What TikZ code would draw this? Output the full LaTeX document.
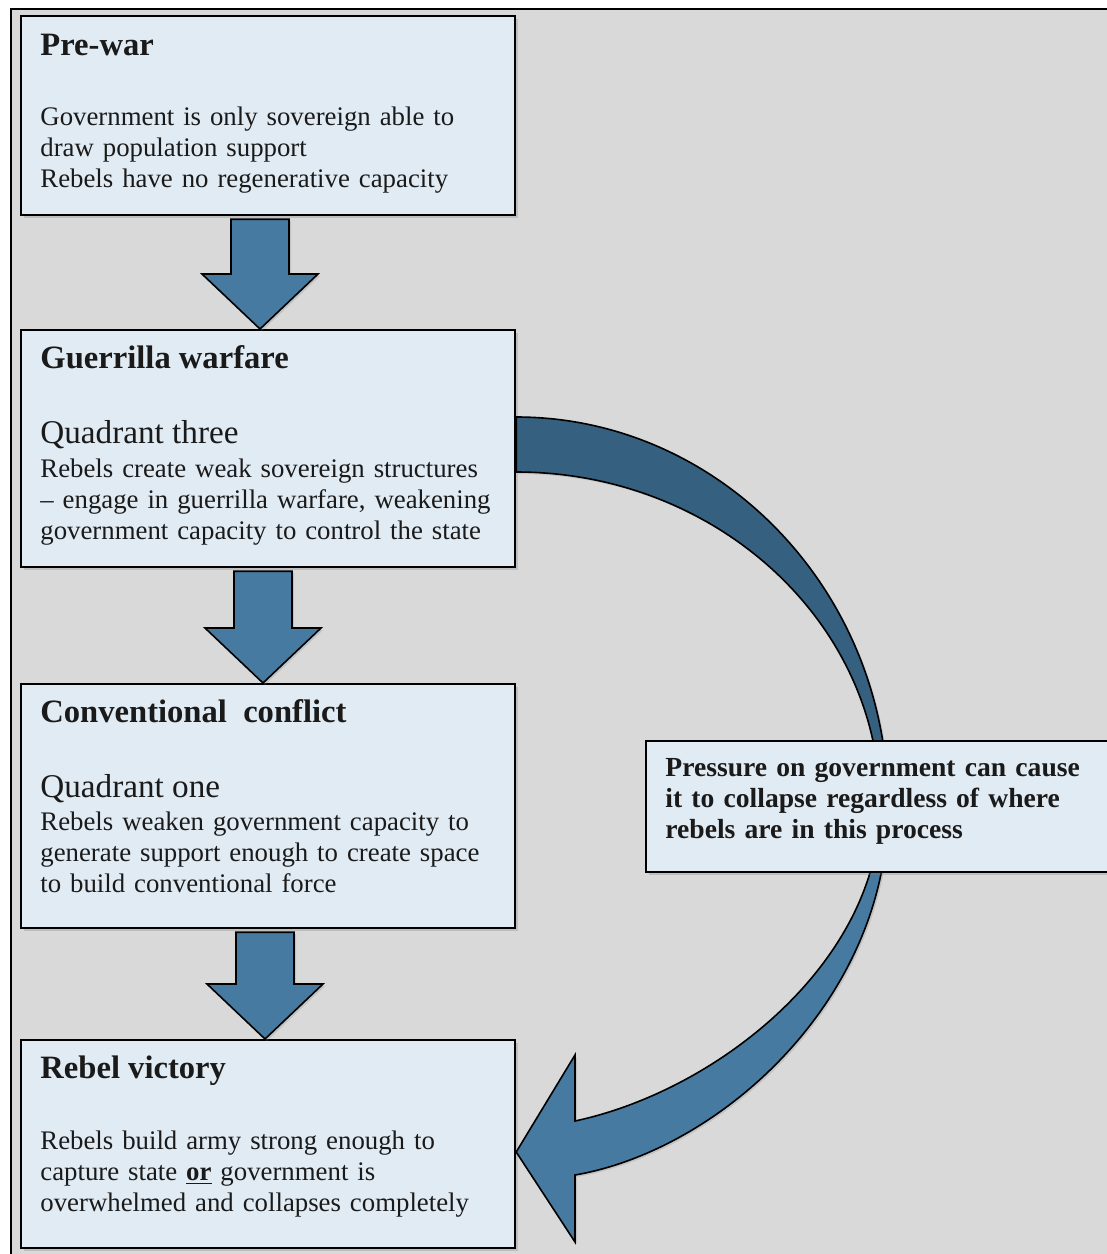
\documentclass[tikz,border=0pt]{standalone}
\usepackage{fontspec}
\setmainfont{Liberation Serif}
\usepackage{xcolor}
\usepackage{tikz}
\usetikzlibrary{calc, shadows}

\definecolor{bggray}{HTML}{D9D9D9}
\definecolor{boxblue}{HTML}{E1EBF3}
\definecolor{arrblue}{HTML}{467AA0}
\definecolor{arrdark}{HTML}{35607F}
\definecolor{ink}{HTML}{1A1A1A}

\tikzset{
  stage/.style={draw=black, line width=1.1pt, fill=boxblue, anchor=north west, inner sep=0pt,
    minimum width=247pt, drop shadow={shadow xshift=1.5pt, shadow yshift=-1.5pt, opacity=0.3}},
  heading/.style={anchor=base west, inner sep=0pt, text=ink, font=\fontsize{16.3}{18}\selectfont\bfseries},
  quad/.style={anchor=base west, inner sep=0pt, text=ink, font=\fontsize{16.6}{18}\selectfont},
  body/.style={anchor=base west, inner sep=0pt, text=ink, align=left, text width=240pt,
    font=\fontsize{13.4}{15.5}\selectfont},
  blockarr/.style={draw=black, line width=0.8pt, fill=arrblue, line join=miter,
    drop shadow={shadow xshift=1pt, shadow yshift=-1pt, opacity=0.25}},
}

\newcommand{\blockdown}[3]{%
  \coordinate (t) at (#3,0 |- #1.south);
  \coordinate (h) at (#3,0 |- #2.north);
  \draw[blockarr] ($(t)+(-29,3)$) -- ($(t)+(29,3)$) -- ($(h)+(29,-55)$) -- ($(h)+(58,-55)$)
    -- (h) -- ($(h)+(-58,-55)$) -- ($(h)+(-29,-55)$) -- cycle;}

\begin{document}
\begin{tikzpicture}[x=0.5pt, y=-0.5pt]
  \useasboundingbox (0,0) rectangle (1107,1254);
  \fill[white] (0,0) rectangle (1107,1254);
  \filldraw[fill=bggray, draw=black, line width=1.2pt] (11,9) rectangle (1130,1280);

  \node[stage, minimum height=99.5pt] (PW) at (20,15) {};
  \node[stage, minimum height=118.5pt] (GW) at (20,329) {};
  \node[stage, minimum height=122pt] (CC) at (20,683) {};
  \node[stage, minimum height=104pt] (RV) at (20,1039) {};

  \blockdown{PW}{GW}{260}
  \blockdown{GW}{CC}{263}
  \blockdown{CC}{RV}{265}

  \path[draw=black, line width=0.8pt, fill=arrdark, drop shadow={shadow xshift=1pt, shadow yshift=-1pt, opacity=0.25}]
    (GW.east |- 0,417) .. controls (720,417) and (888,591) .. (888,806)
    -- (880,806) .. controls (880,622) and (716,472) .. (GW.east |- 0,472) -- cycle;
  \path[blockarr]
    (888,806) .. controls (888,1000) and (720,1150) .. (575,1175)
    -- (575,1242) -- (RV.east |- 0,1152) -- (575,1055) -- (575,1121)
    .. controls (720,1090) and (880,960) .. (880,806) -- cycle;

  \node[stage, minimum width=231pt, minimum height=65.5pt] (PG) at (645,740) {};

  \node[heading] (PWt) at ([shift={(20,40)}]PW.north west) {Pre-war};
  \node[body] (PWb) at ([shift={(20,110)}]PW.north west)
    {Government is only sovereign able to\\ draw population support\\ Rebels have no regenerative capacity};

  \node[heading] (GWt) at ([shift={(20,39)}]GW.north west) {Guerrilla warfare};
  \node[quad] (GWq) at ([shift={(20,114)}]GW.north west) {Quadrant three};
  \node[body] (GWb) at ([shift={(20,148)}]GW.north west)
    {Rebels create weak sovereign structures\\ – engage in guerrilla warfare, weakening\\ government capacity to control the state};

  \node[heading] (CCt) at ([shift={(20,39)}]CC.north west) {Conventional~~conflict};
  \node[quad] (CCq) at ([shift={(20,114)}]CC.north west) {Quadrant one};
  \node[body] (CCb) at ([shift={(20,147)}]CC.north west)
    {Rebels weaken government capacity to\\ generate support enough to create space\\ to build conventional force};

  \node[heading] (RVt) at ([shift={(20,39)}]RV.north west) {Rebel victory};
  \node[body] (RVb) at ([shift={(20,110)}]RV.north west)
    {Rebels build army strong enough to\\ capture state \underline{\textbf{or}} government is\\ overwhelmed and collapses completely};

  \node[body, text width=222pt, font=\fontsize{13.8}{15.5}\selectfont\bfseries] (PGb) at ([shift={(20,36)}]PG.north west)
    {Pressure on government can cause\\ it to collapse regardless of where\\ rebels are in this process};
\end{tikzpicture}
\end{document}
